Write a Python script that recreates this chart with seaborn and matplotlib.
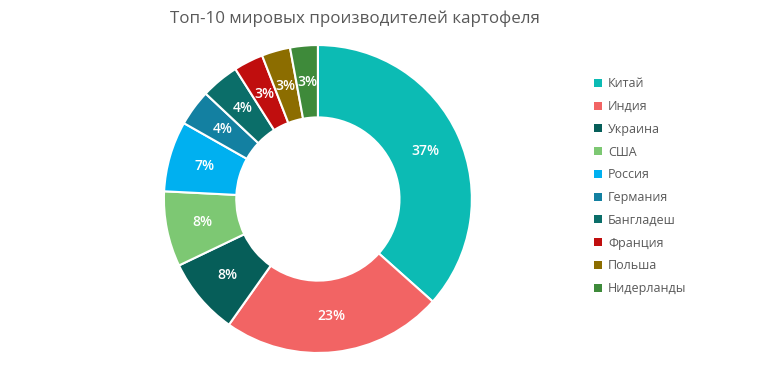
import matplotlib
matplotlib.use("Agg")
import numpy as np
import matplotlib.pyplot as plt
import seaborn as sns
from matplotlib.patches import Patch

countries = ["Китай", "Индия", "Украина", "США", "Россия", "Германия",
             "Бангладеш", "Франция", "Польша", "Нидерланды"]
shares = [36.6, 23.2, 8.1, 7.9, 7.4, 3.8, 4.0, 3.1, 3.0, 2.9]
labels = ["37%", "23%", "8%", "8%", "7%", "4%", "4%", "3%", "3%", "3%"]
hex_colors = ["#0CBBB4", "#F26464", "#065E59", "#7DC873", "#00B0F0",
              "#1380A1", "#0B6E69", "#C00E0E", "#8C6D00", "#3E8A3A"]
title = "Топ-10 мировых производителей картофеля"

sns.set_theme(style="white")
plt.rcParams['font.family'] = ['Open Sans', 'DejaVu Sans']
palette = sns.color_palette(hex_colors)

fig = plt.figure(figsize=(7.66, 3.91), dpi=100)
ax = fig.add_axes([0.214, 0.097, 0.402, 0.788])

wedges, texts = ax.pie(
    shares, colors=palette, startangle=90, counterclock=False,
    radius=1.0, wedgeprops=dict(width=0.47, edgecolor="white", linewidth=1.5),
)
for w, lab in zip(wedges, labels):
    ang = np.deg2rad((w.theta1 + w.theta2) / 2)
    r = 0.765
    ax.text(r * np.cos(ang), r * np.sin(ang), lab, ha="center", va="center",
            color="white", fontsize=10, fontweight="semibold")
ax.set_xlim(-1, 1)
ax.set_ylim(-1, 1)
ax.set_aspect("equal")
ax.axis("off")

fig.text(355 / 766, 1 - 19 / 391, title, ha="center", va="center",
         fontsize=12.2, color="#595959")

handles = [Patch(facecolor=c, edgecolor="none") for c in palette]
leg = fig.legend(handles, countries, loc="upper left",
                 bbox_to_anchor=(583 / 766, 1 - 66 / 391), frameon=False,
                 fontsize=9, handlelength=0.6, handleheight=0.6,
                 handletextpad=0.5, labelspacing=0.78, labelcolor="#595959")

fig.savefig("out.png", dpi=100)
